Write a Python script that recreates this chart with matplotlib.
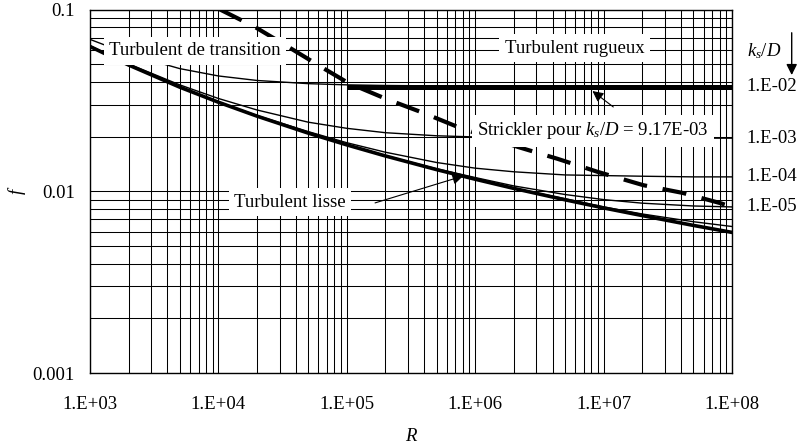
import numpy as np
import matplotlib
matplotlib.use("Agg")
import matplotlib.pyplot as plt
from matplotlib.ticker import LogLocator, NullFormatter

plt.rcParams['font.family'] = ['Liberation Serif', 'DejaVu Serif']
plt.rcParams['mathtext.fontset'] = 'custom'
plt.rcParams['mathtext.rm'] = 'Liberation Serif'
plt.rcParams['mathtext.it'] = 'Liberation Serif:italic'

# Reynolds numbers where the curves were read
R_pts = [1e3, 2e3, 5e3, 1e4, 2e4, 5e4, 1e5, 2e5, 5e5, 1e6, 2e6, 5e6, 1e7, 2e7, 5e7, 1e8]

# friction factor, smooth pipe
f_smooth = [0.0626, 0.0495, 0.0374, 0.0309, 0.0259, 0.0209, 0.0180, 0.01564,
            0.01316, 0.01165, 0.01037, 0.00898, 0.00810, 0.00735, 0.00649, 0.00594]
# friction factor for each relative roughness ks/D
f_1e2 = [0.0685, 0.0568, 0.0473, 0.0431, 0.0407, 0.0391, 0.0385, 0.0382,
         0.0380, 0.0380, 0.0379, 0.0379, 0.0379, 0.0379, 0.0379, 0.0379]
f_1e3 = [0.0632, 0.0502, 0.0385, 0.0324, 0.0280, 0.0240, 0.0222, 0.0210,
         0.0202, 0.0199, 0.0198, 0.0197, 0.0197, 0.0197, 0.0196, 0.0196]
f_1e4 = [0.0627, 0.0496, 0.0375, 0.0310, 0.0261, 0.0213, 0.0185, 0.0164,
         0.0144, 0.0134, 0.0128, 0.0123, 0.0122, 0.0121, 0.0120, 0.0120]
f_1e5 = [0.0625, 0.0495, 0.0374, 0.0309, 0.0259, 0.0209, 0.0181, 0.0157,
         0.0133, 0.0119, 0.0107, 0.0096, 0.0090, 0.0086, 0.0083, 0.0082]
f_1e6 = [0.0625, 0.0495, 0.0374, 0.0309, 0.0259, 0.0209, 0.0180, 0.0156,
         0.0132, 0.0117, 0.0104, 0.0091, 0.0082, 0.0075, 0.0068, 0.0064]

# Strickler line for ks/D = 9.17E-03
strickler_R = [1e5, 1e8]
strickler_f = [0.0376, 0.0376]

# limit between transition and rough turbulence
limit_R = [1.03e4, 1.93e4, 3.62e4, 6.55e4, 1.03e5, 2.03e5, 3.94e5, 7.65e5,
           2.17e6, 4.36e6, 8.95e6, 2.04e7, 4.11e7, 8.13e7, 1e8]
limit_f = [0.100, 0.0801, 0.0614, 0.0476, 0.0394, 0.0322, 0.0270, 0.0223,
           0.0175, 0.0151, 0.0128, 0.0108, 0.0098, 0.0086, 0.0082]

# roughness labels on the right
rough_labels = ['1.E-02', '1.E-03', '1.E-04', '1.E-05']
rough_f = [0.0379, 0.0196, 0.0120, 0.0082]

R_ticks = [1e3, 1e4, 1e5, 1e6, 1e7, 1e8]
R_tick_labels = ['1.E+03', '1.E+04', '1.E+05', '1.E+06', '1.E+07', '1.E+08']
f_ticks = [0.001, 0.01, 0.1]
f_tick_labels = ['0.001', '0.01', '0.1']

fig = plt.figure(figsize=(8, 4.47), dpi=100)
ax = fig.add_axes([0.1125, 0.1655, 0.8025, 0.8132])
ax.set_xscale('log')
ax.set_yscale('log')
ax.set_xlim(1e3, 1e8)
ax.set_ylim(1e-3, 1e-1)

# curves
for f in [f_1e2, f_1e3, f_1e4, f_1e5, f_1e6]:
    ax.plot(R_pts, f, color='black', lw=1.0, zorder=3)
ax.plot(R_pts, f_smooth, color='black', lw=2.6, zorder=3)
ax.plot(strickler_R, strickler_f, color='black', lw=3.6, solid_capstyle='butt', zorder=3)
ax.plot(limit_R, limit_f, color='black', lw=3.0, ls=(0, (5.8, 3.8)), zorder=3)

# grid on every decade and sub-decade
ax.xaxis.set_minor_locator(LogLocator(base=10, subs=np.arange(2, 10), numticks=100))
ax.yaxis.set_minor_locator(LogLocator(base=10, subs=np.arange(2, 10), numticks=100))
ax.xaxis.set_minor_formatter(NullFormatter())
ax.yaxis.set_minor_formatter(NullFormatter())
ax.grid(which='both', color='black', lw=0.75)
ax.set_axisbelow(True)
ax.set_xticks(R_ticks, labels=R_tick_labels)
ax.set_yticks(f_ticks, labels=f_tick_labels)
ax.tick_params(which='both', length=0, labelsize=13.5)
ax.tick_params(axis='x', pad=16.5)
ax.tick_params(axis='y', pad=11)
for s in ax.spines.values():
    s.set_linewidth(1.0)

ax.set_xlabel('R', style='italic', fontsize=13.5, labelpad=11)
ax.set_ylabel('f', style='italic', fontsize=13.5, labelpad=5)

# region labels
box = dict(boxstyle='square,pad=0.3', facecolor='white', edgecolor='none')
ax.text(0.1636, 0.886, 'Turbulent de transition', transform=ax.transAxes,
        ha='center', va='center', fontsize=13.5, bbox=box, zorder=5)
ax.text(0.755, 0.894, 'Turbulent rugueux', transform=ax.transAxes,
        ha='center', va='center', fontsize=13.5, bbox=box, zorder=5)
ax.text(0.7835, 0.666, 'Strickler pour $k_s/D$ = 9.17E-03', transform=ax.transAxes,
        ha='center', va='center', fontsize=13.5, bbox=box, zorder=5)
ax.text(0.3115, 0.470, 'Turbulent lisse', transform=ax.transAxes,
        ha='center', va='center', fontsize=13.5, bbox=box, zorder=5)

arrow = dict(arrowstyle='-|>', color='black', lw=0.8, mutation_scale=16, shrinkA=0, shrinkB=0)
ax.annotate('', xy=(8.19e6, 0.0356), xytext=(1.19e7, 0.0291), arrowprops=arrow, zorder=6)
ax.annotate('', xy=(8.07e5, 0.01214), xytext=(1.66e5, 0.00863), arrowprops=arrow, zorder=6)

# ks/D scale on the right
yt = ax.get_yaxis_transform()
for lab, f in zip(rough_labels, rough_f):
    ax.text(1.023, f, lab, transform=yt, ha='left', va='center', fontsize=13.5)
ax.text(1.023, 0.0591, '$k_s/D$', transform=yt, ha='left', va='center', fontsize=13.5)
ax.annotate('', xy=(1.093, 0.0436), xytext=(1.093, 0.0745), xycoords=yt, textcoords=yt,
            arrowprops=dict(arrowstyle='-|>', color='black', lw=1.0, mutation_scale=16,
                            shrinkA=0, shrinkB=0), annotation_clip=False)

fig.savefig('out.png', dpi=100)
